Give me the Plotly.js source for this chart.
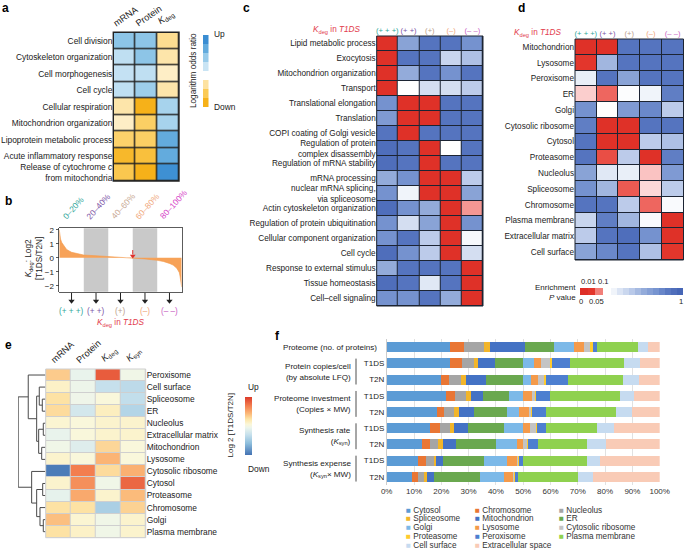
<!DOCTYPE html>
<html><head><meta charset="utf-8">
<script src="https://cdn.plot.ly/plotly-3.0.1.min.js"></script>
<style>html,body{margin:0;padding:0;background:#fff}#chart{width:684px;height:550px}</style>
</head><body><div id="chart"></div>
<script>
// ---------------- Panel a ----------------
const aTerms = ['Cell division','Cytoskeleton organization','Cell morphogenesis','Cell cycle','Cellular respiration','Mitochondrion organization','Lipoprotein metabolic process','Acute inflammatory response','Release of cytochrome <i>c</i><br>from mitochondria'];
const aCols = ['mRNA','Protein','<i>K</i><sub>deg</sub>'];
const aMRNA    = [2.2, 1.2, 1.1, 1.2, -0.9, -0.6, -1.7, -2.7, -2.1];
const aProtein = [2.2, 2.2, 1.2, 1.9, -3.0, -1.8, -1.8, -2.4, -3.0];
const aKdeg    = [-1.2, -0.9, -0.6, -0.9, 1.7, 1.7, 3.0, 3.0, 3.9];
const aLegendLevels = [4, 3, 2, 1, 0, -1, -2, -3];

// ---------------- Panel b ----------------
const bRank = [0, 0.5, 1, 2, 3.3, 6, 10, 15, 20, 30, 39, 50, 60, 70, 80, 85, 90, 93, 96, 98, 98.6, 99.3, 100];
const bLog2 = [2.0, 1.6, 1.35, 1.1, 0.95, 0.6, 0.4, 0.28, 0.2, 0.15, 0.11, 0.05, 0.0, -0.08, -0.18, -0.26, -0.4, -0.52, -0.75, -1.05, -1.3, -1.7, -2.1];
const bBins = ['0–20%','20–40%','40–60%','60–80%','80–100%'];
const bBinCenters = [10, 30, 50, 70, 90];
const bShaded = [[20, 40], [60, 80]];
const bMarkRank = 60;          // red arrow: rank where log2 ratio crosses 0
const bMarkFrom = 0.56, bMarkTo = 0.14;
const groups = ['(+ + +)','(+ +)','(+)','(–)','(– –)'];
const groupColors = ['#30a79a','#7d55a6','#bba08c','#f0a77c','#c964c4'];
const binColors = ['#30a79a','#7d55a6','#c9aa95','#f0a77c','#d63fc8'];

// ---------------- Panel c ----------------
const cTerms = ['Lipid metabolic process','Exocytosis','Mitochondrion organization','Transport','Translational elongation','Translation','COPI coating of Golgi vesicle','Regulation of protein<br>complex disassembly','Regulation of mRNA stability','mRNA processing','nuclear mRNA splicing,<br>via spliceosome','Actin cytoskeleton organization','Regulation of protein ubiquitination','Cellular component organization','Cell cycle','Response to external stimulus','Tissue homeostasis','Cell–cell signaling'];
const cPPP = [0.01,0.01,0.01,0.01,0.7,0.65,0.85,0.9,0.9,0.55,0.7,0.9,0.7,0.7,0.9,0.55,0.9,0.7];
const cPP  = [0.6,0.85,0.55,0.15,0.01,0.01,0.01,0.85,0.85,0.7,0.2,0.7,0.3,0.85,0.7,0.85,0.85,0.7];
const cP   = [0.85,0.85,0.85,0.3,0.01,0.01,0.85,0.01,0.01,0.01,0.01,0.55,0.6,0.4,0.4,0.85,0.25,0.85];
const cM   = [0.85,0.35,0.7,0.3,0.85,0.85,0.85,0.15,0.85,0.01,0.01,0.01,0.01,0.01,0.01,0.85,0.85,0.55];
const cMM  = [0.7,0.45,0.85,0.4,0.85,0.85,0.85,0.85,0.85,0.4,0.6,0.085,0.7,0.18,0.3,0.01,0.01,0.01];

// ---------------- Panel d ----------------
const dTerms = ['Mitochondrion','Lysosome','Peroxisome','ER','Golgi','Cytosolic ribosome','Cytosol','Proteasome','Nucleolus','Spliceosome','Chromosome','Plasma membrane','Extracellular matrix','Cell surface'];
const dPPP = [0.01,0.03,0.22,0.11,0.7,0.8,0.85,0.85,0.6,0.7,0.85,0.35,0.4,0.6];
const dPP  = [0.01,0.5,0.85,0.065,0.15,0.01,0.01,0.05,0.25,0.5,0.85,0.8,0.85,0.75];
const dP   = [0.85,0.85,0.6,0.16,0.65,0.01,0.01,0.4,0.22,0.06,0.4,0.5,0.9,0.85];
const dM   = [0.85,0.85,0.85,0.2,0.75,0.85,0.4,0.01,0.105,0.115,0.065,0.17,0.7,0.45];
const dMM  = [0.85,0.85,0.85,0.8,0.4,0.85,0.45,0.8,0.65,0.4,0.17,0.01,0.01,0.03];
const pLegendRed = [0.005, 0.03, 0.075];
const pLegendBlue = [0.2,0.27,0.34,0.41,0.48,0.55,0.62,0.69,0.76,0.83,0.9,0.97];

// ---------------- Panel e ----------------
const eTerms = ['Peroxisome','Cell surface','Spliceosome','ER','Nucleolus','Extracellular matrix','Mitochondrion','Lysosome','Cytosolic ribosome','Cytosol','Proteasome','Chromosome','Golgi','Plasma membrane'];
const eCols = ['mRNA','Protein','<i>K</i><sub>deg</sub>','<i>K</i><sub>syn</sub>'];
const eMRNA    = [0.35,0.12,0.25,0.28,0.08,-0.08,-0.03,0.1,-0.95,0.1,-0.1,0.25,0.4,0.25];
const eProtein = [-0.08,-0.05,-0.04,-0.22,0.04,0.04,-0.15,0.04,0.7,0.62,0.5,0.25,0.08,0.12];
const eKdeg    = [0.85,-0.3,0.04,0.15,0.1,0.1,0.3,0.45,0.28,-0.03,0.1,-0.45,-0.03,-0.03];
const eKsyn    = [-0.03,-0.35,-0.32,-0.4,0.1,0.1,0.04,0.04,0.47,0.8,0.42,0.32,0.1,0.1];
// dendrogram merges: [childA, childB, height]; leaves 0..13, new nodes numbered from 14
const eMerges = [[2,3,3.4],[1,14,6.4],[4,5,2.4],[6,7,4.0],[16,17,7.0],[15,18,9.0],[0,19,17.4],[9,10,3.0],[12,13,2.4],[11,22,5.7],[21,23,9.0],[8,24,14.0],[20,25,27.4]];

// ---------------- Panel f ----------------
const fRows = ['Proteome','T1DS','T2N','T1DS','T2N','T1DS','T2N','T1DS','T2N'];
const fLocations = ['Cytosol','Chromosome','Nucleolus','Spliceosome','Mitochondrion','ER','Golgi','Lysosome','Cytosolic ribosome','Proteasome','Peroxisome','Plasma membrane','Cell surface','Extracellular space'];
const fColors = ['#5b9bd5','#e97634','#a5a5a5','#f2b52a','#4472c4','#6aa84f','#7cb9e8','#f49a4a','#c4c4c4','#ffcb2e','#4d7fd0','#8fd14f','#c6dbf0','#f9cbb6'];
const cytosol        = [23.3,23.3,20.0,21.7,18.6,15.9,12.9,11.4,9.4];
const chromosome     = [4.9,4.3,2.7,3.4,2.5,3.7,2.8,2.9,2.0];
const nucleolus      = [7.6,4.3,4.5,4.1,3.7,3.7,3.1,2.9,2.4];
const spliceosome    = [2.2,1.6,2.0,1.7,1.8,1.5,1.7,0.9,0.9];
const mitochondrion  = [12.5,6.0,7.0,4.4,5.3,4.8,5.0,2.7,2.7];
const er             = [10.7,10.6,13.6,9.5,12.0,13.3,14.7,14.8,16.9];
const golgi          = [7.3,3.8,3.1,5.2,4.5,7.2,7.6,8.4,8.6];
const lysosome       = [3.6,2.5,2.4,3.1,3.7,2.5,2.0,3.9,3.4];
const cytoRibosome   = [2.4,3.4,2.5,1.2,0.8,2.0,1.7,0.3,0.4];
const proteasome     = [1.2,0.7,0.5,0.4,0.4,0.4,0.2,0.2,0.2];
const peroxisome     = [1.2,6.6,8.0,5.1,5.0,3.2,3.6,1.6,1.3];
const plasmaMembrane = [15.2,19.8,20.1,25.7,25.6,18.7,18.0,23.3,21.9];
const cellSurface    = [3.5,5.7,6.1,5.1,6.1,6.2,7.1,4.8,5.3];
const extracellular  = [4.4,7.4,7.5,9.4,10.0,16.9,19.6,21.9,24.6];
const fSeries = [cytosol,chromosome,nucleolus,spliceosome,mitochondrion,er,golgi,lysosome,cytoRibosome,proteasome,peroxisome,plasmaMembrane,cellSurface,extracellular];
const fGroups = [
  {text:'Protein copies/cell<br>(by absolute LFQ)', rows:[1,2]},
  {text:'Proteome investment<br>(Copies × MW)', rows:[3,4]},
  {text:'Synthesis rate<br>(<i>K</i><sub>syn</sub>)', rows:[5,6]},
  {text:'Synthesis expense<br>(<i>K</i><sub>syn</sub>× MW)', rows:[7,8]}
];

// ================= drawing =================
const W = 684, H = 550;
const px = v => v / W, py = v => 1 - v / H;
const xd = (a, b) => [a / W, b / W];
const yd = (t, b) => [1 - b / H, 1 - t / H];
const FONT = 'Liberation Sans, Arial, Helvetica, sans-serif';
const FS = 8;

const aScale = [[0,'#f6b119'],[0.1429,'#fbca55'],[0.2857,'#fde2a0'],[0.4286,'#ffffff'],[0.5714,'#c9e4f4'],[0.7143,'#98cbea'],[0.8571,'#63abdd'],[1,'#3a8dd2']];
const pScale = [[0,'#dd2e26'],[0.03,'#e3362c'],[0.06,'#ec5a52'],[0.09,'#f6a3a0'],[0.12,'#fde3e3'],[0.15,'#ffffff'],[0.25,'#e0e8f5'],[0.4,'#bccbea'],[0.55,'#93abda'],[0.7,'#7592cf'],[0.85,'#5574bf'],[1,'#4263b4']];
const eScale = [[0,'#4372b3'],[0.2,'#8dbedc'],[0.35,'#c6e0ec'],[0.47,'#ecf5ec'],[0.53,'#fbf7d8'],[0.62,'#fde4a6'],[0.72,'#fbb676'],[0.85,'#f37e4f'],[1,'#dc3a2a']];

const rowsOf = (cols, n) => Array.from({length:n}, (_, i) => cols.map(c => c[i]));
const idx = n => Array.from({length:n}, (_, i) => i);

const traces = [];
// a
traces.push({type:'heatmap', x:idx(aCols.length), y:aTerms, z:rowsOf([aMRNA,aProtein,aKdeg], aTerms.length),
  colorscale:aScale, zmin:-3, zmax:4, showscale:false, xgap:1.4, ygap:1.4, xaxis:'x', yaxis:'y', hoverinfo:'skip'});
traces.push({type:'heatmap', x:[0], y:idx(aLegendLevels.length), z:aLegendLevels.map(v=>[v]),
  colorscale:aScale, zmin:-3, zmax:4, showscale:false, xaxis:'x9', yaxis:'y9', hoverinfo:'skip'});
// b
traces.push({type:'scatter', mode:'lines', x:bRank, y:bLog2, fill:'tozeroy', fillcolor:'#f7a258',
  line:{color:'#f39a4c', width:0.6}, xaxis:'x2', yaxis:'y2', hoverinfo:'skip'});
// b red marker arrow
traces.push({type:'scatter', mode:'lines', x:[bMarkRank, bMarkRank], y:[bMarkFrom, bMarkTo + 0.1],
  line:{color:'#e0302a', width:1}, xaxis:'x2', yaxis:'y2', hoverinfo:'skip'});
traces.push({type:'scatter', mode:'markers', x:[bMarkRank], y:[bMarkTo], marker:{symbol:'triangle-down', size:5, color:'#e0302a'},
  xaxis:'x2', yaxis:'y2', hoverinfo:'skip'});
// b arrows below each bin (own strip axis)
const arX = [], arY = [];
bBinCenters.forEach(c => { arX.push(c, c, null); arY.push(0.93, 0.35, null); });
traces.push({type:'scatter', mode:'lines', x:arX, y:arY, line:{color:'#222', width:1}, xaxis:'x2', yaxis:'y11', hoverinfo:'skip', connectgaps:false});
traces.push({type:'scatter', mode:'markers', x:bBinCenters, y:bBinCenters.map(() => 0.3),
  marker:{symbol:'triangle-down', size:5.5, color:'#222'}, xaxis:'x2', yaxis:'y11', hoverinfo:'skip'});
// c
traces.push({type:'heatmap', x:idx(5), y:idx(cTerms.length), z:rowsOf([cPPP,cPP,cP,cM,cMM], cTerms.length),
  colorscale:pScale, zmin:0, zmax:1, showscale:false, xgap:1, ygap:1, xaxis:'x3', yaxis:'y3', hoverinfo:'skip'});
// d
traces.push({type:'heatmap', x:idx(5), y:idx(dTerms.length), z:rowsOf([dPPP,dPP,dP,dM,dMM], dTerms.length),
  colorscale:pScale, zmin:0, zmax:1, showscale:false, xgap:1, ygap:1, xaxis:'x4', yaxis:'y4', hoverinfo:'skip'});
traces.push({type:'heatmap', x:idx(pLegendRed.length+1), y:[0,1], z:[pLegendRed],
  colorscale:pScale, zmin:0, zmax:1, showscale:false, xaxis:'x5', yaxis:'y5', hoverinfo:'skip'});
traces.push({type:'heatmap', x:idx(pLegendBlue.length+1), y:[0,1], z:[pLegendBlue],
  colorscale:pScale, zmin:0, zmax:1, showscale:false, xaxis:'x10', yaxis:'y10', hoverinfo:'skip'});
// e
traces.push({type:'heatmap', x:idx(eCols.length), y:idx(eTerms.length), z:rowsOf([eMRNA,eProtein,eKdeg,eKsyn], eTerms.length),
  colorscale:eScale, zmin:-1, zmax:1, xgap:1, ygap:1, xaxis:'x7', yaxis:'y7', hoverinfo:'skip',
  colorbar:{x:px(235), xanchor:'left', y:py(426), yanchor:'middle', len:78/H, lenmode:'fraction',
    thickness:7, thicknessmode:'pixels', showticklabels:false, ticks:'', outlinewidth:0}});
const nodeY = eTerms.map((_, i) => i), nodeH = eTerms.map(() => 0);
const dX = [], dY = [];
eMerges.forEach(([a, b, h]) => {
  dX.push(nodeH[a], h, h, nodeH[b], null);
  dY.push(nodeY[a], nodeY[a], nodeY[b], nodeY[b], null);
  nodeY.push((nodeY[a] + nodeY[b]) / 2); nodeH.push(h);
});
traces.push({type:'scatter', mode:'lines', x:dX, y:dY, line:{color:'#4a4a4a', width:1},
  xaxis:'x8', yaxis:'y7', hoverinfo:'skip', connectgaps:false});
// f
fSeries.forEach((s, k) => traces.push({type:'bar', orientation:'h', name:fLocations[k], x:s, y:idx(fRows.length),
  marker:{color:fColors[k], line:{width:0}}, xaxis:'x6', yaxis:'y6', hoverinfo:'skip'}));

// axes
const base = {showgrid:false, zeroline:false, showticklabels:false, ticks:'', showline:false, fixedrange:true};
const ax = (domain, anchor, extra) => Object.assign({}, base, {domain, anchor}, extra || {});
const colHead = groups.map((g, i) => `<span style="color:${groupColors[i]}">${g}</span>`);

const layout = {
  width:W, height:H, margin:{l:0, r:0, t:0, b:0}, paper_bgcolor:'#fff', plot_bgcolor:'#fff',
  font:{family:FONT, size:FS, color:'#222'}, showlegend:false, barmode:'stack', bargap:0.38,
  xaxis:  ax(xd(113.3,179), 'y', {range:[-0.5, aCols.length-0.5]}),
  yaxis:  ax(yd(32.3,181), 'x', {autorange:'reversed', showticklabels:true, tickfont:{size:8.4}}),
  xaxis9: ax(xd(203,208.5), 'y9', {range:[-0.5,0.5]}),
  yaxis9: ax(yd(35,107), 'x9', {range:[aLegendLevels.length-0.5,-0.5]}),
  xaxis2: ax(xd(59.3,181.7), 'y2', {range:[0,100], showline:true, mirror:true, linecolor:'#333', linewidth:0.8}),
  yaxis2: ax(yd(228.3,291.7), 'x2', {range:[-2.43,2.12], tickvals:[-2,-1,0,1,2], showticklabels:true, ticks:'outside', ticklen:3, tickwidth:0.8, tickcolor:'#333', showline:true, mirror:true, linecolor:'#333', linewidth:0.8, tickfont:{size:8}}),
  yaxis11: ax(yd(292,305), 'x2', {range:[0,1]}),
  xaxis3: ax(xd(376.7,483), 'y3', {range:[-0.5,4.5], side:'top', tickangle:0, tickvals:idx(5), ticktext:colHead, showticklabels:true, tickfont:{size:7.6}}),
  yaxis3: ax(yd(36,306), 'x3', {range:[cTerms.length-0.5,-0.5], tickvals:idx(cTerms.length), ticktext:cTerms, showticklabels:true, tickfont:{size:8.2}}),
  xaxis4: ax(xd(575,683.5), 'y4', {range:[-0.5,4.5], side:'top', tickangle:0, tickvals:idx(5), ticktext:colHead, showticklabels:true, tickfont:{size:7.6}}),
  yaxis4: ax(yd(39,260), 'x4', {range:[dTerms.length-0.5,-0.5], tickvals:idx(dTerms.length), ticktext:dTerms, showticklabels:true, tickfont:{size:8.2}}),
  xaxis5: ax(xd(580,603), 'y5', {range:[0,pLegendRed.length]}),
  yaxis5: ax(yd(288,295), 'x5', {range:[0,1]}),
  xaxis10: ax(xd(611,683), 'y10', {range:[0,pLegendBlue.length]}),
  yaxis10: ax(yd(288,295), 'x10', {range:[0,1]}),
  xaxis7: ax(xd(45.7,145.7), 'y7', {range:[-0.5, eCols.length-0.5]}),
  yaxis7: ax(yd(369,537.7), 'x7', {side:'right', range:[eTerms.length-0.5,-0.5], tickvals:idx(eTerms.length), ticktext:eTerms, showticklabels:true, tickfont:{size:8.4}}),
  xaxis8: ax(xd(18,45.7), 'y7', {range:[27.6,0]}),
  xaxis6: ax(xd(386.7,659.7), 'y6', {range:[0,100], dtick:10, tick0:0, ticksuffix:'%', showgrid:true, gridcolor:'#d9d9d9', gridwidth:0.8, showticklabels:true, tickfont:{size:8, color:'#333'}}),
  yaxis6: ax(yd(339.2,484.8), 'x6', {range:[fRows.length-0.5,-0.5], tickvals:idx(fRows.length).slice(1), ticktext:fRows.slice(1), showticklabels:true, showline:true, linecolor:'#bfbfbf', linewidth:0.8, tickfont:{size:8}})
};

// shapes
const shapes = [];
const frame = (xa, ya, col, lw) => {
  shapes.push({type:'rect', xref:xa+' domain', yref:ya+' domain', x0:0, x1:1, y0:0, y1:1, fillcolor:col, line:{width:0}, layer:'below'});
  shapes.push({type:'rect', xref:xa+' domain', yref:ya+' domain', x0:0, x1:1, y0:0, y1:1, fillcolor:'rgba(0,0,0,0)', line:{color:col, width:lw}, layer:'above'});
};
frame('x', 'y', '#222', 1.4);
frame('x3', 'y3', '#1c2433', 1);
frame('x4', 'y4', '#1c2433', 1);
frame('x7', 'y7', '#cfcfcf', 1);
bShaded.forEach(([a, b]) => shapes.push({type:'rect', xref:'x2', yref:'y2 domain', x0:a, x1:b, y0:0, y1:1, fillcolor:'#c9c9c9', line:{width:0}, layer:'below'}));
fGroups.forEach(g => shapes.push({type:'line', xref:'paper', yref:'y6', x0:px(356), x1:px(356), y0:g.rows[0]-0.3, y1:g.rows[1]+0.3, line:{color:'#222', width:0.8}}));
layout.shapes = shapes;

// annotations
const ann = [];
const T = (text, x, y, o) => ann.push(Object.assign({text, x:px(x), y:py(y), xref:'paper', yref:'paper', showarrow:false, xanchor:'center', yanchor:'middle'}, o || {}));
const letter = (t, x, y) => T(`<b>${t}</b>`, x, y, {font:{size:12, color:'#000'}});
letter('a', 5, 8); letter('b', 8, 201); letter('c', 246, 8); letter('d', 521, 8); letter('e', 8, 345); letter('f', 277, 336);
// a column headers (rotated)
aCols.forEach((c, i) => ann.push({text:c, x:i, xref:'x', y:py(31), yref:'paper', showarrow:false, textangle:-35,
  xanchor:'left', yanchor:'bottom', xshift:-15, font:{size:9.2}}));
// a legend
T('Up', 212, 34, {xanchor:'left', font:{size:8.4}});
T('Down', 212, 107, {xanchor:'left', font:{size:8.4}});
T('Logarithm odds ratio', 193, 71, {textangle:-90, font:{size:8.2}});
// b
bBins.forEach((t, i) => ann.push({text:t, x:bBinCenters[i], xref:'x2', y:py(224), yref:'paper', showarrow:false,
  textangle:-48, xanchor:'left', yanchor:'bottom', xshift:-14, font:{size:8.4, color:binColors[i]}}));
bBinCenters.forEach((c, i) => {
  ann.push({text:groups[i], x:c, xref:'x2', y:py(311), yref:'paper', showarrow:false, font:{size:8.2, color:groupColors[i]}});
});
ann.push({text:'<i>K</i><sub>deg</sub> in <i>T1DS</i>', x:50, xref:'x2', y:py(323), yref:'paper', showarrow:false, font:{size:8.2, color:'#e23b4c'}});
T('<i>K</i><sub>deg</sub>: Log2<br>[T1DS/T2N]', 34, 259, {textangle:-90, font:{size:8.2}});
// c / d headers
T('<i>K</i><sub>deg</sub> in <i>T1DS</i>', 362, 30, {xanchor:'right', font:{size:8.2, color:'#e23b4c'}});
T('<i>K</i><sub>deg</sub> in <i>T1DS</i>', 563, 33, {xanchor:'right', font:{size:8.2, color:'#e23b4c'}});
// d legend
T('Enrichment', 577.5, 287, {xanchor:'right', font:{size:8}});
T('<i>P</i> value', 577.5, 297.5, {xanchor:'right', font:{size:8}});
T('0.01', 588, 281, {font:{size:7.6}}); T('0.1', 603.5, 281, {font:{size:7.6}});
T('0', 581, 301.5, {font:{size:7.6}}); T('0.05', 596, 301.5, {font:{size:7.6}}); T('1', 681, 301.5, {font:{size:7.6}});
// e column headers (rotated)
eCols.forEach((c, i) => ann.push({text:c, x:i, xref:'x7', y:py(368), yref:'paper', showarrow:false, textangle:-42,
  xanchor:'left', yanchor:'bottom', xshift:-12, font:{size:9.2}}));
// e colorbar labels
T('Up', 246, 387, {xanchor:'left', font:{size:8.4}});
T('Down', 246, 469, {xanchor:'left', font:{size:8.4}});
T('Log 2 [T1DS/T2N]', 229.5, 426, {textangle:-90, font:{size:8}});
// f labels
ann.push({text:'Proteome (no. of proteins)', x:px(378.5), xref:'paper', y:0, yref:'y6', xanchor:'right', showarrow:false, font:{size:8.1}});
fGroups.forEach(g => ann.push({text:g.text, x:px(353), xref:'paper', y:(g.rows[0]+g.rows[1])/2, yref:'y6', xanchor:'right', align:'right', showarrow:false, font:{size:8.1}}));
const legCols = [404, 473, 557];
fLocations.forEach((name, i) => {
  const c = i % 3, r = Math.floor(i / 3);
  T(`<span style="color:${fColors[i]}">■</span> ${name}`, legCols[c], 510 + r * 8.75, {xanchor:'left', font:{size:8.2, color:'#333'}});
});
layout.annotations = ann;

Plotly.newPlot('chart', traces, layout, {staticPlot:true, displayModeBar:false});
</script>
</body></html>
